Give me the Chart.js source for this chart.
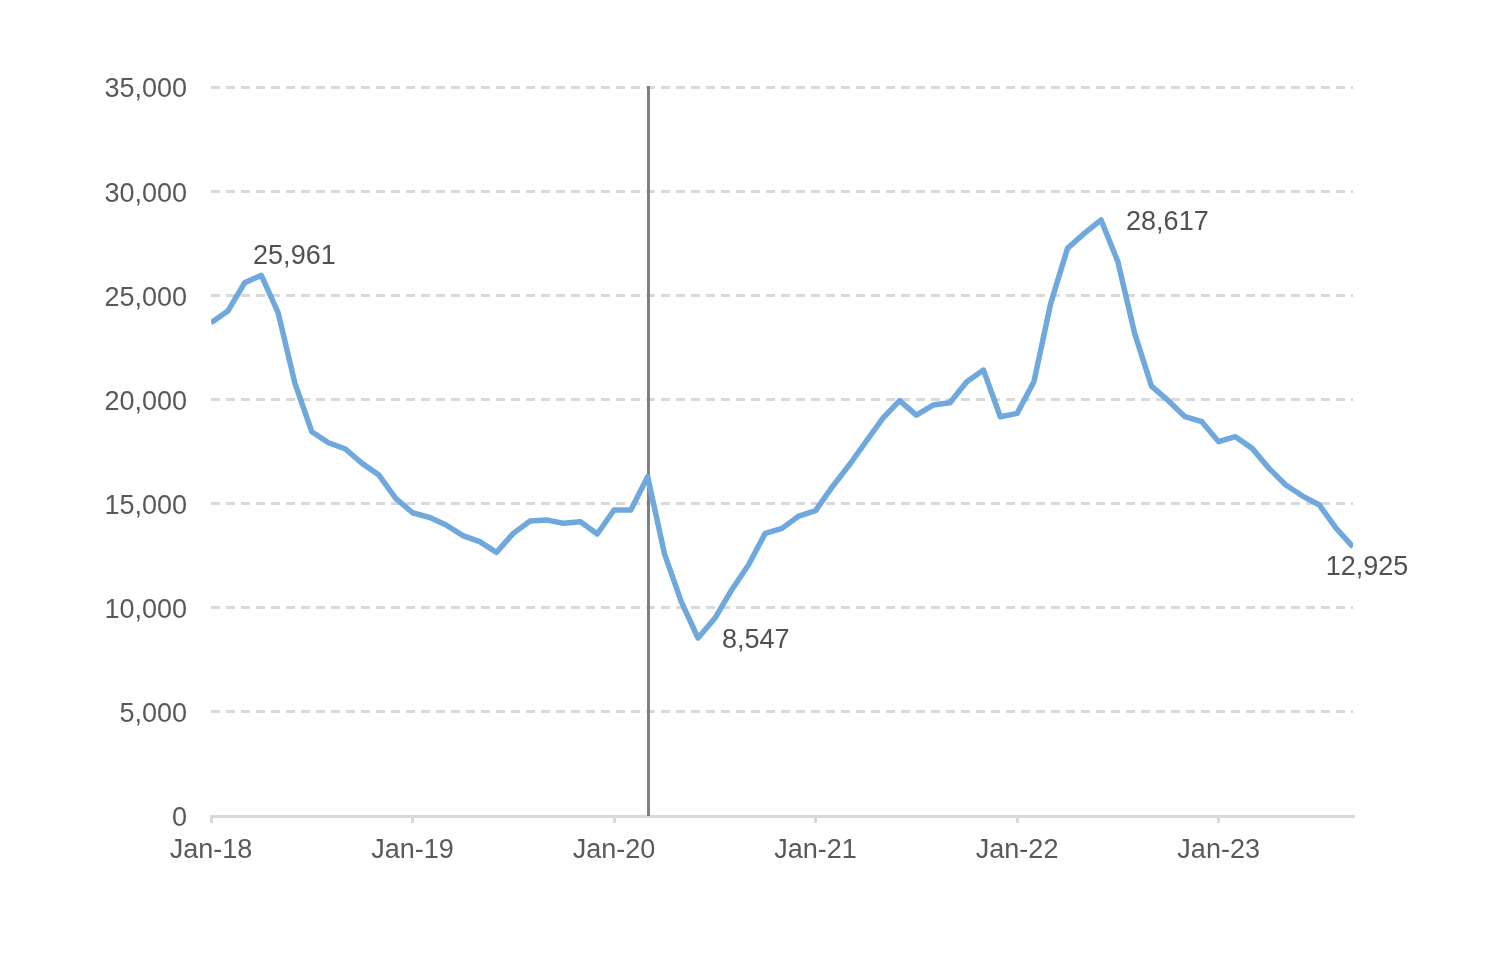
<!DOCTYPE html>
<html>
<head>
<meta charset="utf-8">
<title>Monthly series</title>
<script src="https://cdn.jsdelivr.net/npm/chart.js@4"></script>
<style>
  html, body { margin: 0; padding: 0; background: #fff; }
  #wrap { width: 1500px; height: 961px; }
</style>
</head>
<body>
<div id="wrap"><canvas id="chart"></canvas></div>
<script>
/* ---------- data (Jan-18 .. Sep-23, monthly) ---------- */
const values = [
  23680, 24240, 25600, 25961, 24160, 20770, 18450, 17920, 17620, 16930, 16370, 15250,
  14560, 14340, 13970, 13460, 13170, 12660, 13570, 14160, 14210, 14050, 14130, 13540,
  14690, 14690, 16290, 12600, 10290, 8547, 9490, 10850, 12050, 13570, 13810, 14400,
  14660, 15810, 16850, 17970, 19090, 19940, 19250, 19730, 19840, 20850, 21410, 19170,
  19330, 20850, 24610, 27250, 27970, 28617, 26610, 23170, 20640, 19940, 19170, 18930,
  17970, 18210, 17650, 16690, 15890, 15360, 14930, 13810, 12925
];
const xTickLabels = ['Jan-18', 'Jan-19', 'Jan-20', 'Jan-21', 'Jan-22', 'Jan-23'];
const markerIndex = 26;               // Mar-20 vertical line
const labelledPoints = [3, 29, 53, 68];

const FONT = "'Liberation Sans', Arial, sans-serif";
const TEXT = '#595959';
const GRID = '#d9d9d9';

/* ---------- plugins ---------- */
const markerLine = {
  id: 'markerLine',
  beforeDatasetsDraw(chart) {
    const { ctx, chartArea, scales } = chart;
    const x = Math.round(scales.x.getPixelForValue(markerIndex)) + 0.5;
    ctx.save();
    ctx.strokeStyle = '#808080';
    ctx.lineWidth = 3;
    ctx.beginPath();
    ctx.moveTo(x, chartArea.top - 1);
    ctx.lineTo(x, chartArea.bottom);
    ctx.stroke();
    ctx.restore();
  }
};

// offsets for the four value labels
const labelOffsets = {
  3:  { dx: 33, dy: -19, align: 'center' },
  29: { dx: 24, dy: 3, align: 'left' },
  53: { dx: 25, dy: 3, align: 'left' },
  68: { dx: 14, dy: 21, align: 'center' }
};

const valueLabels = {
  id: 'valueLabels',
  afterDatasetsDraw(chart) {
    const { ctx } = chart;
    const meta = chart.getDatasetMeta(0);
    ctx.save();
    ctx.font = '27px ' + FONT;
    ctx.fillStyle = '#505050';
    ctx.textBaseline = 'middle';
    labelledPoints.forEach(i => {
      const p = meta.data[i];
      const o = labelOffsets[i];
      ctx.textAlign = o.align;
      ctx.fillText(values[i].toLocaleString('en-US'), p.x + o.dx, p.y + o.dy);
    });
    ctx.restore();
  }
};

/* ---------- chart ---------- */
new Chart(document.getElementById('chart'), {
  type: 'line',
  data: {
    datasets: [{
      data: values.map((v, i) => ({ x: i, y: v })),
      borderColor: '#6fa8dc',
      borderWidth: 5.5,
      borderJoinStyle: 'round',
      pointRadius: 0,
      tension: 0
    }]
  },
  options: {
    responsive: true,
    maintainAspectRatio: false,
    animation: false,
    layout: { padding: { left: 0, right: 147, top: 87, bottom: 0 } },
    plugins: { legend: { display: false }, tooltip: { enabled: false } },
    scales: {
      x: {
        type: 'linear',
        min: 0,
        max: values.length - 1,
        afterFit: s => { s.height = 145; },
        afterBuildTicks: s => {
          s.ticks = xTickLabels.map((_, k) => ({ value: k * 12 }));
        },
        ticks: {
          font: { family: FONT, size: 27 },
          color: TEXT,
          padding: 11,
          maxRotation: 0,
          autoSkip: false,
          callback: v => xTickLabels[v / 12]
        },
        grid: {
          drawOnChartArea: false,
          drawTicks: true,
          tickLength: 7,
          color: GRID,
          lineWidth: 3
        },
        border: { display: true, color: GRID, width: 3 }
      },
      y: {
        min: 0,
        max: 35000,
        afterFit: s => { s.width = 211; },
        ticks: {
          stepSize: 5000,
          font: { family: FONT, size: 27 },
          color: TEXT,
          padding: 24,
          labelOffset: 3,
          callback: v => v.toLocaleString('en-US')
        },
        grid: {
          drawTicks: false,
          color: c => (c.tick && c.tick.value === 0 ? 'rgba(0,0,0,0)' : GRID),
          lineWidth: 3
        },
        border: { display: false, dash: [9, 6] }
      }
    }
  },
  plugins: [markerLine, valueLabels]
});
</script>
</body>
</html>
